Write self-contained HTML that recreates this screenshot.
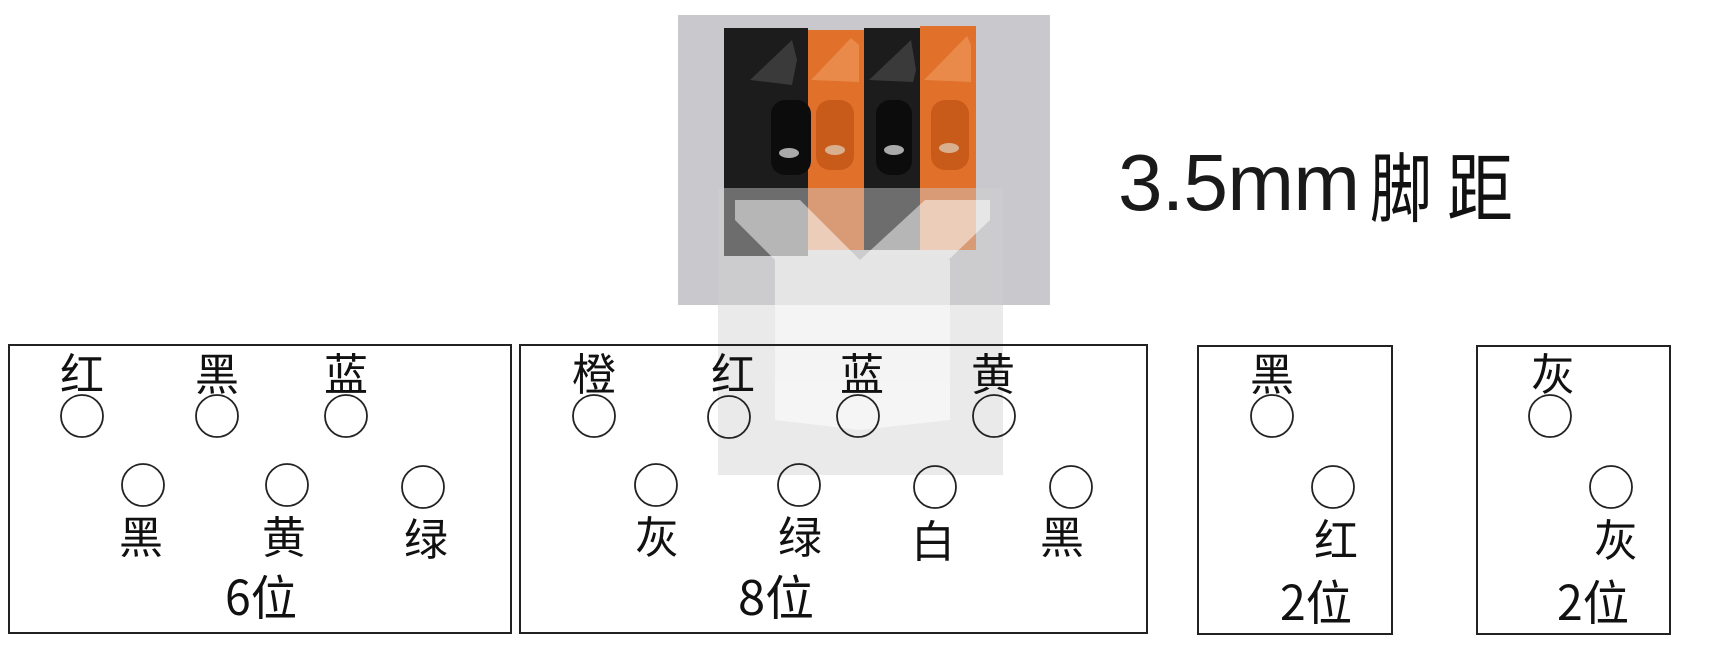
<!DOCTYPE html>
<html><head><meta charset="utf-8"><style>
html,body{margin:0;padding:0;background:#fff;}
svg{display:block}
.c{font-family:"Noto Sans CJK SC","WenQuanYi Zen Hei",sans-serif;fill:#111;}
</style></head><body>
<svg width="1718" height="646" viewBox="0 0 1718 646" xmlns="http://www.w3.org/2000/svg">
<!-- photo -->
<rect x="678" y="15" width="372" height="290" fill="#c9c9cd"/>
<rect x="724" y="28" width="84" height="228" fill="#1c1c1c"/>
<rect x="808" y="30" width="56" height="220" fill="#e0702a"/>
<rect x="864" y="28" width="56" height="222" fill="#1c1c1c"/>
<rect x="920" y="26" width="56" height="224" fill="#e0702a"/>
<polygon points="750,80 792,40 797,60 792,85" fill="#3a3a3a"/>
<polygon points="811,80 851,38 859,45 859,82" fill="#ea8a4a"/>
<polygon points="869,80 911,40 916,70 913,82" fill="#3a3a3a"/>
<polygon points="924,80 967,36 971,45 971,82" fill="#ea8a4a"/>
<rect x="771" y="100" width="40" height="75" rx="14" fill="#0c0c0c"/>
<rect x="816" y="100" width="38" height="70" rx="14" fill="#c85a1a"/>
<rect x="876" y="100" width="36" height="75" rx="14" fill="#0c0c0c"/>
<rect x="931" y="100" width="38" height="70" rx="14" fill="#c85a1a"/>
<ellipse cx="789" cy="153" rx="10" ry="5" fill="#aaa"/>
<ellipse cx="835" cy="150" rx="10" ry="5" fill="#d8b090"/>
<ellipse cx="894" cy="150" rx="10" ry="5" fill="#aaa"/>
<ellipse cx="949" cy="148" rx="10" ry="5" fill="#d8b090"/>
<!-- watermark -->
<g fill="#d0d0d0" opacity="0.45">
<polygon points="718,188 1003,188 1003,475 718,475"/>
</g>
<g fill="#ffffff" opacity="0.5">
<polygon points="735,200 800,200 860,260 925,200 990,200 990,220 860,345 735,220"/>
<polygon points="775,260 805,260 860,320 920,260 950,260 950,420 860,430 775,420"/>
</g>
<!-- title -->
<text x="1118" y="210" font-family="'Liberation Sans',sans-serif" font-size="80" fill="#1a1a1a" textLength="242" lengthAdjust="spacing">3.5mm</text>
<text class="c" x="1370" y="216" style="font-size:76px" textLength="62" lengthAdjust="spacingAndGlyphs">脚</text>
<text class="c" x="1447" y="216" style="font-size:76px" textLength="66" lengthAdjust="spacingAndGlyphs">距</text>
<!-- boxes -->
<g fill="none" stroke="#222" stroke-width="2">
<rect x="9" y="345" width="502" height="288"/>
<rect x="520" y="345" width="627" height="288"/>
<rect x="1198" y="346" width="194" height="288"/>
<rect x="1477" y="346" width="193" height="288"/>
<g stroke-width="1.8">
<circle cx="82" cy="416" r="21"/><circle cx="217" cy="416" r="21"/><circle cx="346" cy="416" r="21"/>
<circle cx="143" cy="485" r="21"/><circle cx="287" cy="485" r="21"/><circle cx="423" cy="487" r="21"/>
<circle cx="594" cy="416" r="21"/><circle cx="729" cy="417" r="21"/><circle cx="858" cy="416" r="21"/><circle cx="994" cy="416" r="21"/>
<circle cx="656" cy="485" r="21"/><circle cx="799" cy="485" r="21"/><circle cx="935" cy="487" r="21"/><circle cx="1071" cy="487" r="21"/>
<circle cx="1272" cy="416" r="21"/><circle cx="1333" cy="487" r="21"/>
<circle cx="1550" cy="416" r="21"/><circle cx="1611" cy="487" r="21"/>
</g>
</g>
<g class="c" text-anchor="middle" style="font-size:44px">
<text x="82" y="390">红</text><text x="217" y="390">黑</text><text x="346" y="390">蓝</text>
<text x="141" y="553">黑</text><text x="284" y="553">黄</text><text x="426" y="555">绿</text>
<text x="594" y="390">橙</text><text x="733" y="390">红</text><text x="862" y="390">蓝</text><text x="993" y="390">黄</text>
<text x="657" y="553">灰</text><text x="800" y="553">绿</text><text x="933" y="557">白</text><text x="1062" y="553">黑</text>
<text x="1272" y="390">黑</text><text x="1336" y="556">红</text>
<text x="1553" y="390">灰</text><text x="1616" y="556">灰</text>
</g>
<g class="c" style="font-size:48px">
<text x="225" y="615" textLength="72" lengthAdjust="spacingAndGlyphs">6位</text>
<text x="738" y="615" textLength="76" lengthAdjust="spacingAndGlyphs">8位</text>
<text x="1280" y="620" textLength="72" lengthAdjust="spacingAndGlyphs">2位</text>
<text x="1557" y="620" textLength="72" lengthAdjust="spacingAndGlyphs">2位</text>
</g>
</svg>
</body></html>
